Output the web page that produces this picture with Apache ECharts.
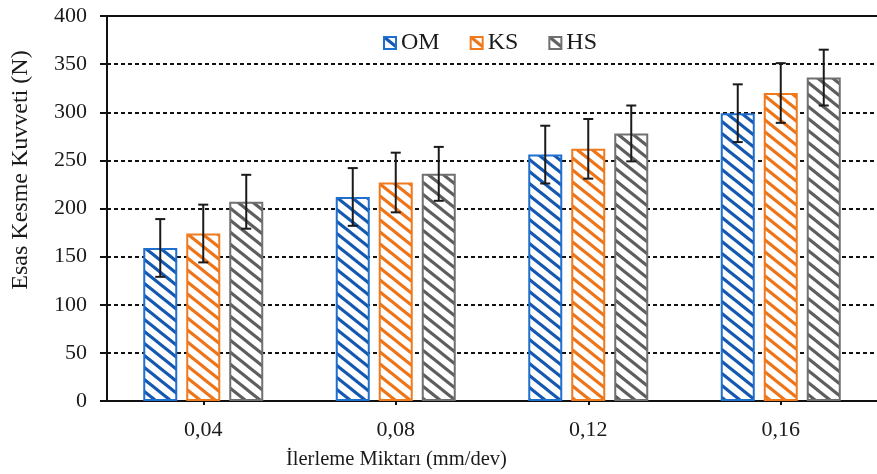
<!DOCTYPE html>
<html>
<head>
<meta charset="utf-8">
<script src="https://cdn.jsdelivr.net/npm/echarts@6/dist/echarts.min.js"></script>
<style>html,body{margin:0;padding:0;background:#fff;}#c{width:877px;height:474px;}</style>
</head>
<body>
<div id="c"></div>
<script>
var categories = ['0,04', '0,08', '0,12', '0,16'];
var seriesNames = ['OM', 'KS', 'HS'];
var omValues = [159, 212, 256, 299];
var ksValues = [174, 227, 262, 320];
var hsValues = [207, 236, 278, 336];
var omErrors = [30, 30, 30, 30];
var ksErrors = [30, 31, 31, 31];
var hsErrors = [28, 28, 29, 29];
var yTicks = [0, 50, 100, 150, 200, 250, 300, 350, 400];

var FONT = '"Liberation Serif", "Times New Roman", serif';
var strokeColors = ['#1f6fce', '#f07a1e', '#707070'];
var stripeColors = ['#1558b0', '#ee7418', '#5e5e5e'];
var BAR_W = 34, BAR_GAP = 9;

function makeHatch(color) {
  var w = 15, h = 12;
  var cv = document.createElement('canvas');
  cv.width = w; cv.height = h;
  var ctx = cv.getContext('2d');
  ctx.fillStyle = '#ffffff';
  ctx.fillRect(0, 0, w, h);
  ctx.strokeStyle = color;
  ctx.lineWidth = 3.2;
  for (var k = -1; k <= 1; k++) {
    ctx.beginPath();
    ctx.moveTo(-w, -h + k * h);
    ctx.lineTo(2 * w, 2 * h + k * h);
    ctx.stroke();
  }
  return cv;
}

var valueSets = [omValues, ksValues, hsValues];
var errorSets = [omErrors, ksErrors, hsErrors];

var series = [];
seriesNames.forEach(function (name, i) {
  series.push({
    name: name,
    type: 'bar',
    barWidth: BAR_W,
    barGap: (BAR_GAP / BAR_W * 100) + '%',
    data: valueSets[i],
    itemStyle: {
      color: { image: makeHatch(stripeColors[i]), repeat: 'repeat' },
      borderColor: strokeColors[i],
      borderWidth: 2
    },
    z: 3
  });
});

seriesNames.forEach(function (name, i) {
  var offset = (i - 1) * (BAR_W + BAR_GAP);
  series.push({
    name: name + ' err',
    type: 'custom',
    z: 5,
    silent: true,
    data: valueSets[i].map(function (v, j) { return [j, v, errorSets[i][j]]; }),
    renderItem: function (params, api) {
      var idx = api.value(0), v = api.value(1), e = api.value(2);
      var x = api.coord([idx, v])[0] + offset;
      var yTop = api.coord([idx, v + e])[1];
      var yBot = api.coord([idx, v - e])[1];
      var cap = 5;
      var st = { stroke: '#1a1a1a', lineWidth: 2 };
      return {
        type: 'group',
        children: [
          { type: 'line', shape: { x1: x, y1: yTop, x2: x, y2: yBot }, style: st },
          { type: 'line', shape: { x1: x - cap, y1: yTop, x2: x + cap, y2: yTop }, style: st },
          { type: 'line', shape: { x1: x - cap, y1: yBot, x2: x + cap, y2: yBot }, style: st }
        ]
      };
    }
  });
});

var chart = echarts.init(document.getElementById('c'), null, { renderer: 'canvas' });
chart.setOption({
  animation: false,
  backgroundColor: '#ffffff',
  textStyle: { fontFamily: FONT },
  grid: { left: 107, top: 16, width: 776, bottom: 73, containLabel: false },
  legend: {
    data: seriesNames,
    left: 378,
    top: 26,
    icon: 'rect',
    itemWidth: 12,
    itemHeight: 12,
    itemGap: 30,
    textStyle: { fontFamily: FONT, fontSize: 24, color: '#1a1a1a' }
  },
  graphic: [{
    type: 'text',
    left: 286,
    top: 449,
    style: { text: 'İlerleme Miktarı (mm/dev)', font: '20.5px ' + FONT, fill: '#1a1a1a' }
  }, {
    type: 'text',
    x: 21,
    y: 170,
    rotation: Math.PI / 2,
    style: {
      text: 'Esas Kesme Kuvveti (N)', font: '24px ' + FONT, fill: '#1a1a1a',
      align: 'center', verticalAlign: 'middle'
    }
  }],
  xAxis: [{
    type: 'category',
    data: categories,
    axisLine: { lineStyle: { color: '#111', width: 2 } },
    axisTick: { show: true, alignWithLabel: true, length: 4, lineStyle: { color: '#111', width: 2 } },
    axisLabel: { margin: 18, fontFamily: FONT, fontSize: 22, color: '#1a1a1a' },
    splitLine: { show: false }
  }, {
    type: 'category',
    position: 'top',
    data: categories,
    axisLine: { show: true, lineStyle: { color: '#111', width: 2 } },
    axisTick: { show: false },
    axisLabel: { show: false }
  }],
  yAxis: {
    type: 'value',
    min: 0,
    max: 400,
    interval: 50,
    axisLine: { show: true, lineStyle: { color: '#111', width: 2 } },
    axisTick: { show: true, length: 7, lineStyle: { color: '#111', width: 2 } },
    axisLabel: {
      margin: 20, fontFamily: FONT, fontSize: 22, color: '#1a1a1a',
      formatter: function (v) { return yTicks.indexOf(v) >= 0 ? String(v) : ''; }
    },
    splitLine: { show: true, lineStyle: { color: '#111', width: 2, type: [4, 3] } }
  },
  series: series
});
</script>
</body>
</html>
